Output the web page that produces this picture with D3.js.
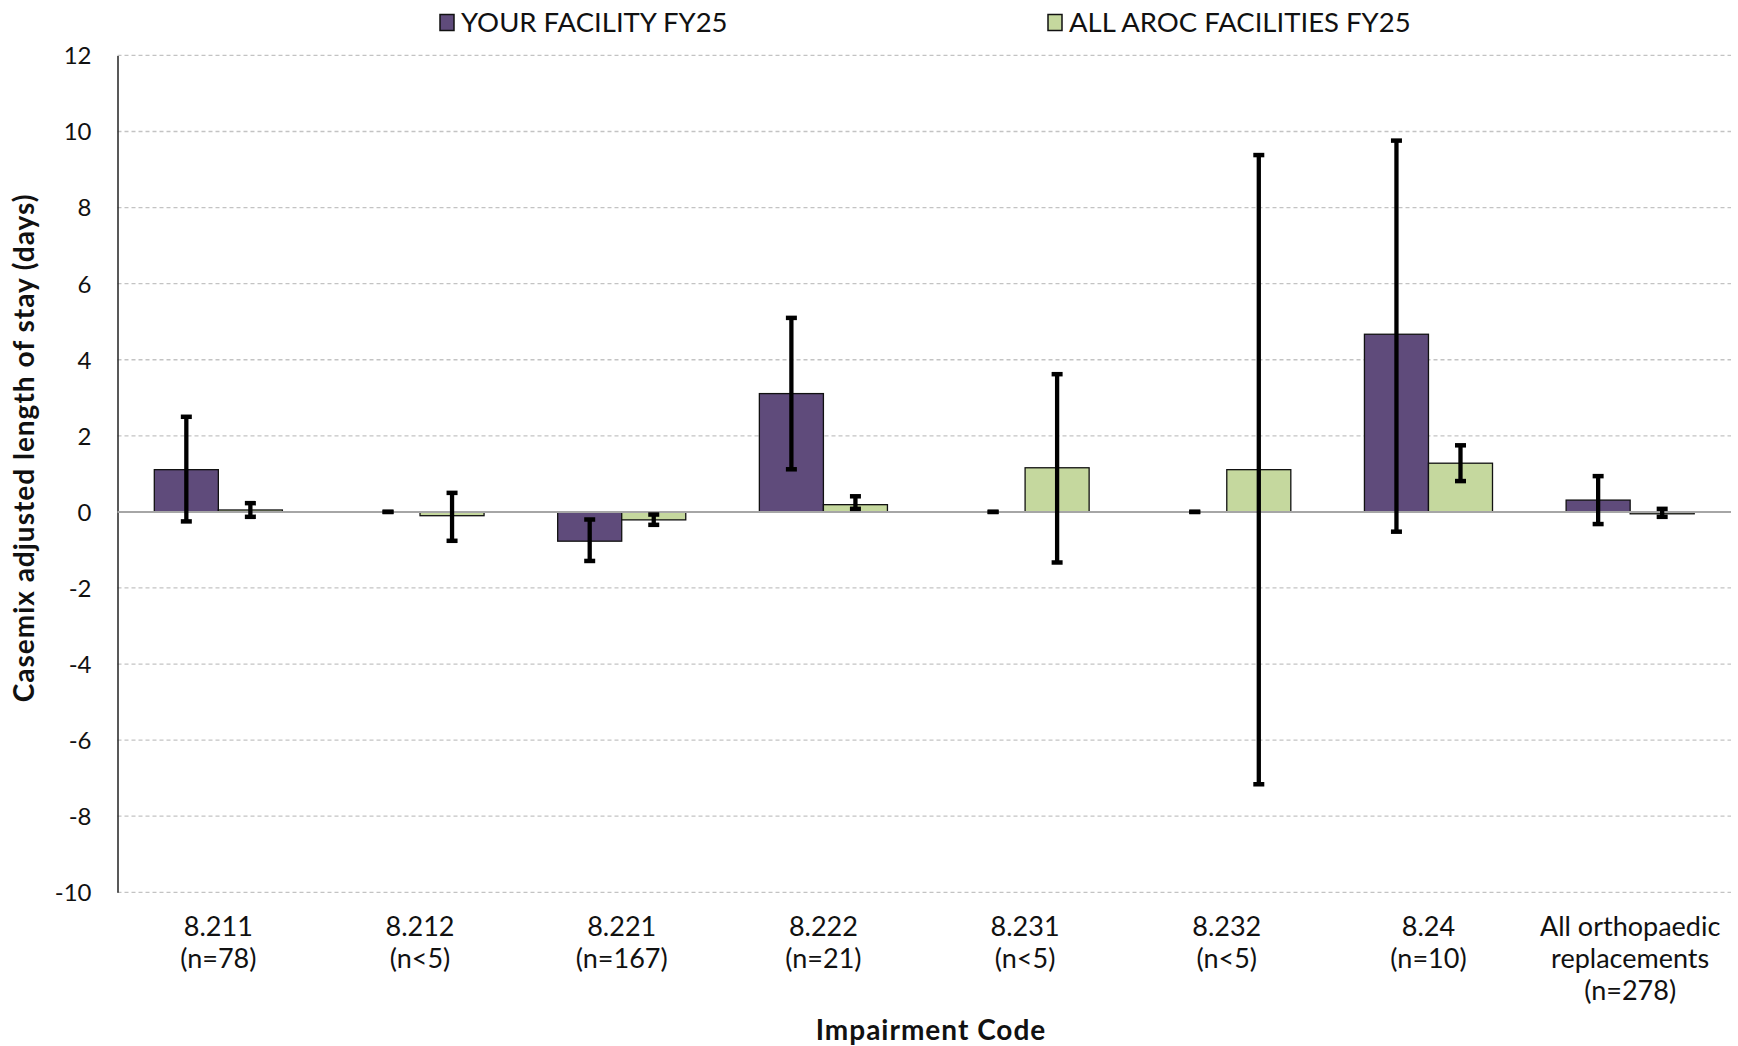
<!DOCTYPE html>
<html><head><meta charset="utf-8">
<script src="https://cdn.jsdelivr.net/npm/d3@7"></script>
<style>
html,body{margin:0;padding:0;background:#fff;}
svg{display:block;font-family:"Lato","Noto Sans",sans-serif;}
</style></head>
<body><svg id="chart" width="1738" height="1046"></svg>
<script>
const categories = ["8.211\n(n=78)","8.212\n(n<5)","8.221\n(n=167)","8.222\n(n=21)","8.231\n(n<5)","8.232\n(n<5)","8.24\n(n=10)","All orthopaedic\nreplacements\n(n=278)"];
const seriesNames = ["YOUR FACILITY FY25","ALL AROC FACILITIES FY25"];
const facilityValues = [1.11, 0, -0.77, 3.11, 0, 0, 4.67, 0.31];
const facilityLow    = [-0.25, 0, -1.29, 1.12, 0, 0, -0.52, -0.32];
const facilityHigh   = [2.50, 0, -0.20, 5.10, 0, 0, 9.76, 0.94];
const arocValues = [0.05, -0.10, -0.21, 0.19, 1.16, 1.11, 1.28, -0.05];
const arocLow    = [-0.13, -0.76, -0.34, 0.08, -1.33, -7.16, 0.81, -0.13];
const arocHigh   = [0.23, 0.50, -0.07, 0.41, 3.62, 9.38, 1.75, 0.08];
const yTicks = [-10,-8,-6,-4,-2,0,2,4,6,8,10,12];
const colors = ["#5f4b7b","#c5d89e"];

(function(){
const svg = d3.select("#chart");
const pL = 117.5, pR = 1731, pT = 55.4, pB = 892.3;

const x = d3.scaleBand().domain(categories).range([pL, pR]).paddingInner(0).paddingOuter(0);
const y = d3.scaleLinear().domain([-10, 12]).range([pB, pT]);
const groupW = x.bandwidth() * 0.635;
const xs = d3.scaleBand().domain([0,1]).range([(x.bandwidth()-groupW)/2, (x.bandwidth()+groupW)/2]);

// gridlines
svg.append("g").selectAll("line").data(yTicks.filter(d => d !== 0)).join("line")
  .attr("x1", pL).attr("x2", pR)
  .attr("y1", d => y(d)).attr("y2", d => y(d))
  .attr("stroke", "#c3c3c3").attr("stroke-width", 1.3).attr("stroke-dasharray", "4,3");

// y axis
const yAxis = d3.axisLeft(y).tickValues(yTicks).tickSize(0).tickPadding(0).tickFormat(d => String(d));
const ga = svg.append("g").attr("transform", `translate(${pL},0)`).call(yAxis);
ga.select(".domain").attr("stroke", "#222").attr("stroke-width", 1.5);
ga.selectAll("text").attr("x", -26).attr("dy", "0.35em").attr("font-size", 24).attr("fill", "#111")
  .attr("font-family", '"Lato","Noto Sans",sans-serif');

// bars
const series = [
  {vals: facilityValues, lo: facilityLow, hi: facilityHigh},
  {vals: arocValues, lo: arocLow, hi: arocHigh}
];
series.forEach((s, si) => {
  svg.append("g").selectAll("rect").data(categories.filter((c, i) => s.vals[i] !== 0)).join("rect")
    .attr("x", c => x(c) + xs(si))
    .attr("width", xs.bandwidth())
    .attr("y", c => y(Math.max(0, s.vals[categories.indexOf(c)])))
    .attr("height", c => Math.abs(y(s.vals[categories.indexOf(c)]) - y(0)))
    .attr("fill", colors[si]).attr("stroke", "#111").attr("stroke-width", 1.3);
});

// zero line
svg.append("line").attr("x1", pL).attr("x2", pR).attr("y1", y(0)).attr("y2", y(0))
  .attr("stroke", "#a6a6a6").attr("stroke-width", 2);

// error bars
series.forEach((s, si) => {
  const g = svg.append("g");
  categories.forEach((c, i) => {
    const cx = x(c) + xs(si) + xs.bandwidth()/2;
    g.append("line").attr("x1", cx).attr("x2", cx).attr("y1", y(s.lo[i])).attr("y2", y(s.hi[i]))
      .attr("stroke", "#000").attr("stroke-width", 4.3);
    [s.lo[i], s.hi[i]].forEach(v => {
      g.append("line").attr("x1", cx - 5.5).attr("x2", cx + 5.5).attr("y1", y(v)).attr("y2", y(v))
        .attr("stroke", "#000").attr("stroke-width", 4.5);
    });
  });
});

// category labels
const gx = svg.append("g");
categories.forEach(c => {
  const lines = c.split("\n");
  const t = gx.append("text").attr("x", x(c) + x.bandwidth()/2).attr("y", 936)
    .attr("text-anchor", "middle").attr("font-size", 27).attr("fill", "#111");
  lines.forEach((l, li) => t.append("tspan").attr("x", x(c) + x.bandwidth()/2).attr("dy", li === 0 ? 0 : 32).text(l));
});

// axis titles
svg.append("text").attr("x", 931).attr("y", 1040).attr("text-anchor", "middle")
  .attr("font-size", 28).attr("letter-spacing", 1).attr("font-weight", "bold").attr("fill", "#111").text("Impairment Code");
svg.append("text").attr("transform", "translate(34,448) rotate(-90)").attr("text-anchor", "middle")
  .attr("font-size", 28).attr("letter-spacing", 1).attr("font-weight", "bold").attr("fill", "#111").text("Casemix adjusted length of stay (days)");

// legend
const legendX = [440, 1048];
seriesNames.forEach((n, i) => {
  svg.append("rect").attr("x", legendX[i]).attr("y", 14.5).attr("width", 14).attr("height", 16)
    .attr("fill", colors[i]).attr("stroke", "#111").attr("stroke-width", 1.5);
  svg.append("text").attr("x", legendX[i] + 21).attr("y", 31.5).attr("font-size", 27.5).attr("fill", "#111").text(n);
});
})();
</script></body></html>
